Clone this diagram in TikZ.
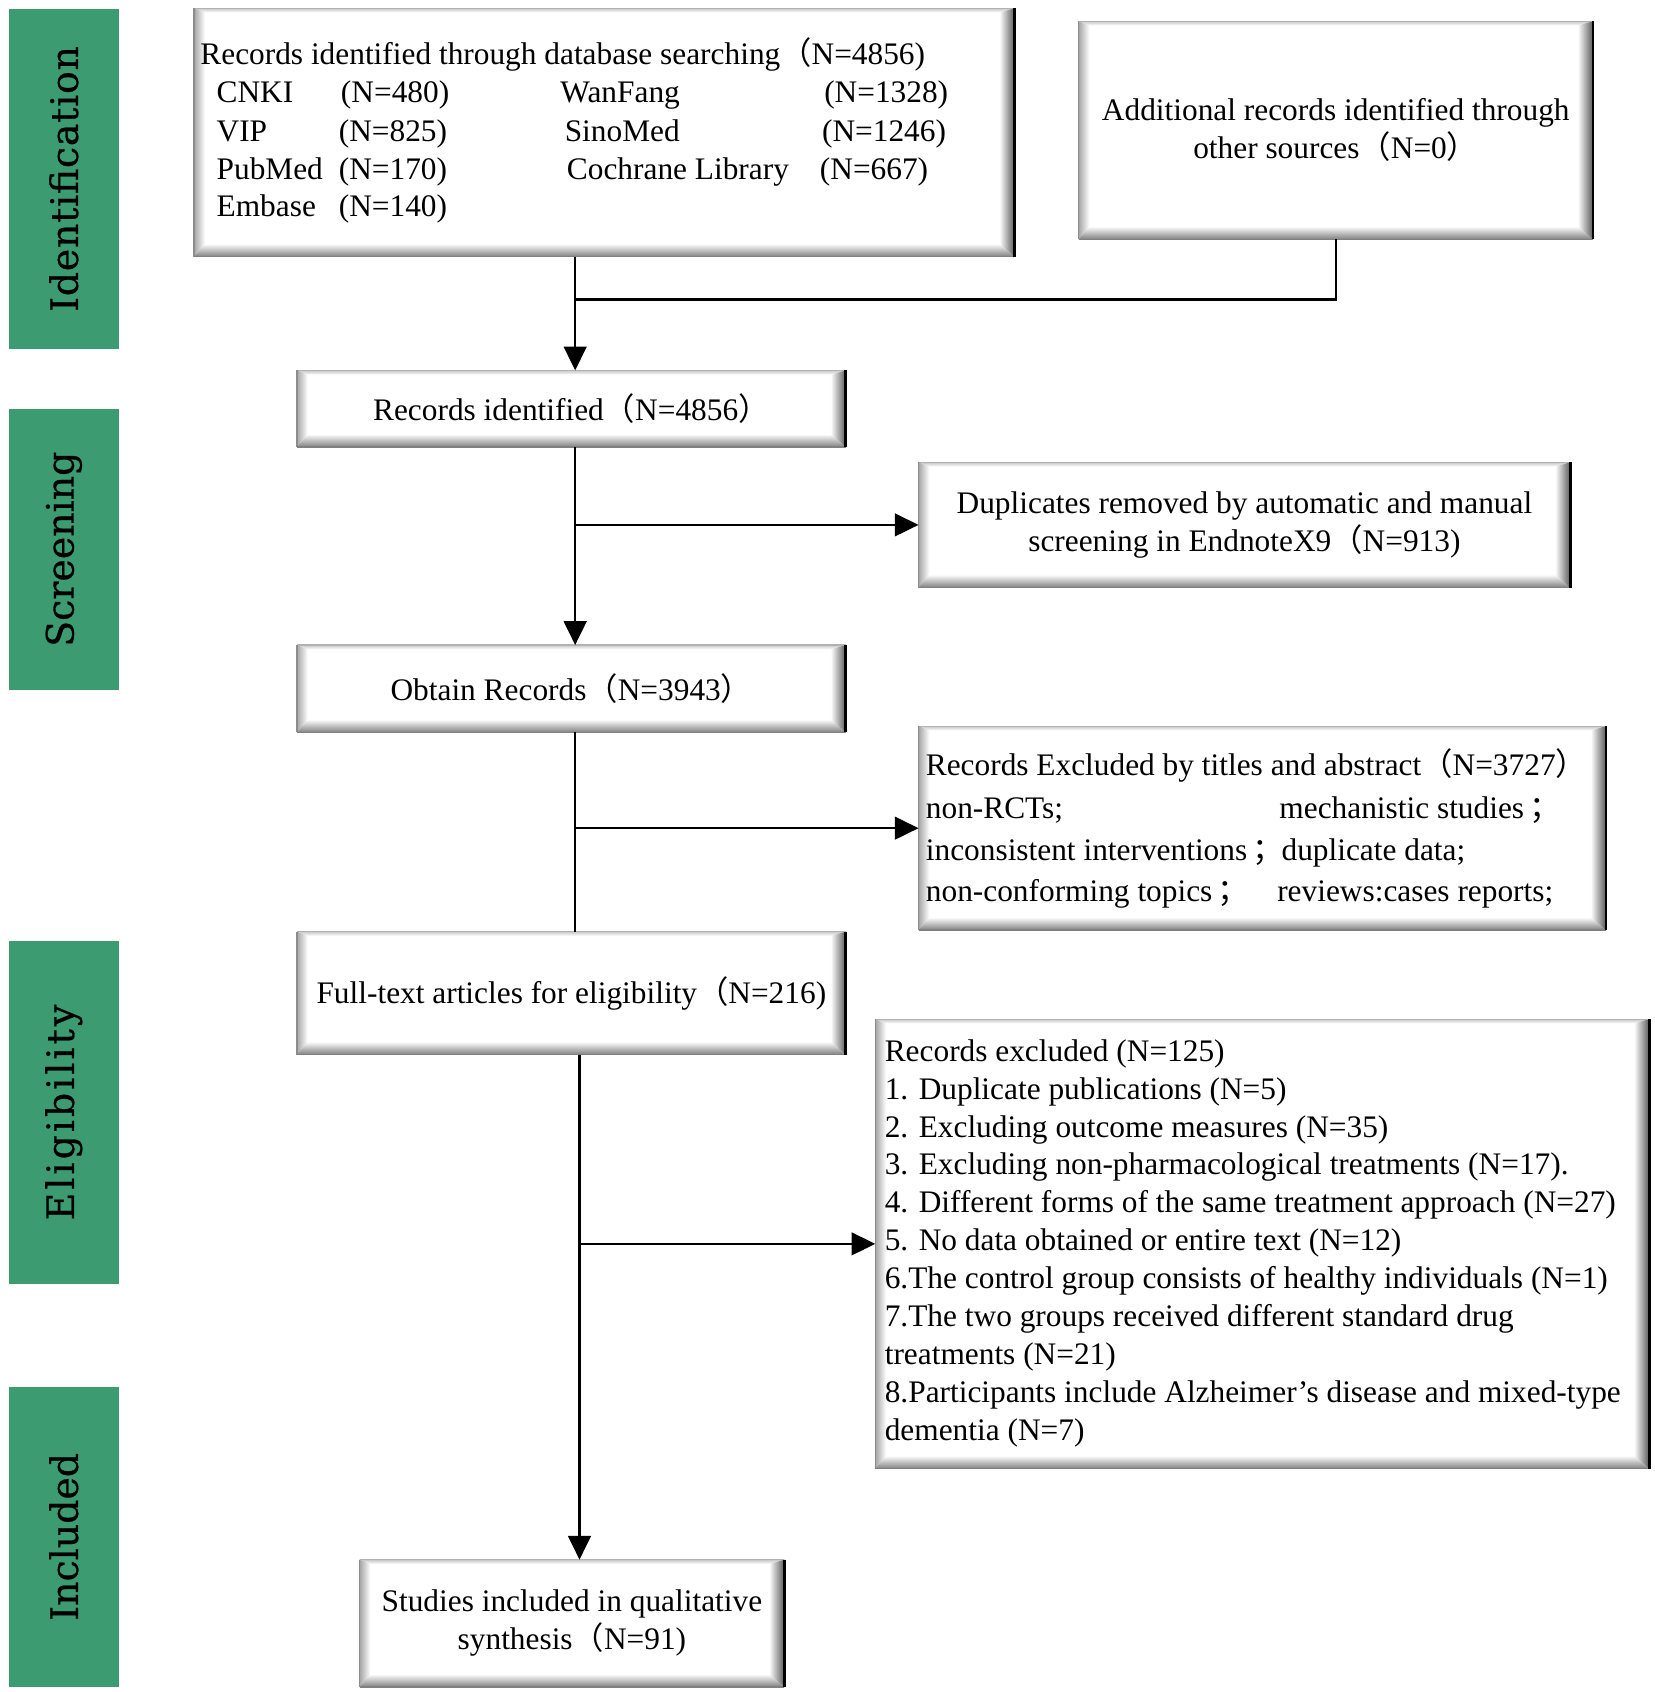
\documentclass[tikz,border=0pt]{standalone}
\usepackage{fontspec}
\setmainfont{Liberation Serif}
\newfontfamily\cjk{Noto Sans CJK SC}
\newfontfamily\phasefont[FakeBold=0.6]{DejaVu Serif}
\usetikzlibrary{arrows.meta,calc}
\newcommand{\lp}{{\cjk （}}
\newcommand{\rp}{{\cjk ）}}
\newcommand{\fsc}{{\cjk ；}}
\newcommand{\bodysize}{\fontsize{14.5pt}{17.5pt}\selectfont}
\definecolor{phasegreen}{RGB}{60,155,112}
\newcommand{\bevel}[1]{%
 \shade[top color=black!22, bottom color=white] (#1.north west) -- (#1.north east) -- ($(#1.north east)+(-14,4)$) -- ($(#1.north west)+(10,4)$) -- cycle;
 \shade[left color=black!35, right color=white] (#1.north west) -- ($(#1.north west)+(10,4)$) -- ($(#1.south west)+(10,-12)$) -- (#1.south west) -- cycle;
 \shade[top color=white, bottom color=black!50] (#1.south west) -- ($(#1.south west)+(10,-12)$) -- ($(#1.south east)+(-14,-12)$) -- (#1.south east) -- cycle;
 \shade[left color=white, right color=black!65] (#1.north east) -- ($(#1.north east)+(-14,4)$) -- ($(#1.south east)+(-14,-12)$) -- (#1.south east) -- cycle;
 \draw[black!30, line width=0.5pt] (#1.north west) -- (#1.north east);
 \draw[black!45, line width=0.7pt] (#1.north west) -- (#1.south west);
 \draw[black!50, line width=0.7pt] (#1.south west) -- (#1.south east);
 \draw[black, line width=1.3pt] (#1.north east) -- (#1.south east);
}
\tikzset{
 box/.style={rectangle, fill=white, inner sep=0pt, align=center, font=\bodysize},
 txt/.style={anchor=base west, inner sep=0pt, font=\bodysize},
 phase/.style={rectangle, fill=phasegreen, inner sep=0pt, rotate=90, text=black, font=\phasefont\fontsize{17.5pt}{20pt}\selectfont},
 conn/.style={line width=1.1pt, black},
 arr/.style={conn, -{Triangle[length=11pt, width=10.5pt]}},
}
\begin{document}
\begin{tikzpicture}[x=0.5pt, y=-0.5pt]
\useasboundingbox (0,0) rectangle (1530,1565);
% phase bars
\node[phase, minimum width=157.5pt, minimum height=51pt] (pIdn) at (59,165.5) {\addfontfeature{LetterSpace=2}Identification};
\node[phase, minimum width=130pt, minimum height=51pt] (pScr) at (59,508) {Screening};
\node[phase, minimum width=159pt, minimum height=51pt] (pEli) at (59,1029) {\addfontfeature{LetterSpace=8}Eligibility};
\node[phase, minimum width=138.5pt, minimum height=51pt] (pInc) at (59,1421.5) {Included};
% boxes
\node[box, minimum width=379pt, minimum height=114.5pt] (db) at (559,122.5) {};
\node[box, minimum width=237.5pt, minimum height=100.5pt] (add) at (1235.5,120.5) {Additional records identified through\\other sources\lp N=0\rp};
\node[box, minimum width=253.5pt, minimum height=35pt] (rid) at (528.5,378) {Records identified\lp N=4856\rp};
\node[box, minimum width=301pt, minimum height=57.5pt] (dup) at (1151,485.5) {Duplicates removed by automatic and manual\\screening in EndnoteX9\lp N=913)};
\node[box, minimum width=253.5pt, minimum height=40pt] (obt) at (528.5,637) {Obtain Records\lp N=3943\rp};
\node[box, minimum width=317.5pt, minimum height=94pt] (exc1) at (1167.5,766) {};
\node[box, minimum width=253.5pt, minimum height=56.5pt] (full) at (528.5,918.5) {Full-text articles for eligibility\lp N=216)};
\node[box, minimum width=357.5pt, minimum height=207.5pt] (exc2) at (1167.5,1150.5) {};
\node[box, minimum width=196pt, minimum height=58.5pt] (inc) at (529,1501.5) {Studies included in qualitative\\synthesis\lp N=91)};
\bevel{db}\bevel{add}\bevel{rid}\bevel{dup}\bevel{obt}\bevel{exc1}\bevel{full}\bevel{exc2}\bevel{inc}
% database box text
\node[txt] (d0) at (185,60) {Records identified through database searching\lp N=4856)};
\node[txt] (d1a) at (200,95) {CNKI};
\node[txt] (d1b) at (315,95) {(N=480)};
\node[txt] (d1c) at (518,95) {WanFang};
\node[txt] (d1d) at (762,95) {(N=1328)};
\node[txt] (d2a) at (200,131) {VIP};
\node[txt] (d2b) at (313,131) {(N=825)};
\node[txt] (d2c) at (522,131) {SinoMed};
\node[txt] (d2d) at (760,131) {(N=1246)};
\node[txt] (d3a) at (200,166) {PubMed};
\node[txt] (d3b) at (313,166) {(N=170)};
\node[txt] (d3c) at (524,166) {Cochrane Library};
\node[txt] (d3d) at (758,166) {(N=667)};
\node[txt] (d4a) at (200,200) {Embase};
\node[txt] (d4b) at (313,200) {(N=140)};
% excluded by titles text
\node[txt] (e0) at (856,717) {Records Excluded by titles and abstract\lp N=3727\rp};
\node[txt] (e1a) at (856,757) {non-RCTs;};
\node[txt] (e1b) at (1183,757) {mechanistic studies\,\fsc};
\node[txt] (e2a) at (856,796) {inconsistent interventions\,\fsc};
\node[txt] (e2b) at (1185,796) {duplicate data;};
\node[txt] (e3a) at (856,834) {non-conforming topics\,\fsc};
\node[txt] (e3b) at (1181,834) {reviews:cases reports;};
% records excluded list
\node[anchor=west, inner sep=0pt, align=left, font=\fontsize{14.5pt}{17.55pt}\selectfont] (elist) at (818,1150) {Records excluded (N=125)\\
1. Duplicate publications (N=5)\\
2. Excluding outcome measures (N=35)\\
3. Excluding non-pharmacological treatments (N=17).\\
4. Different forms of the same treatment approach (N=27)\\
5. No data obtained or entire text (N=12)\\
6.The control group consists of healthy individuals (N=1)\\
7.The two groups received different standard drug\\
treatments (N=21)\\
8.Participants include Alzheimer’s disease and mixed-type\\
dementia (N=7)};
% connectors
\coordinate (m) at (532,0);
\coordinate (m2) at (536,0);
\coordinate (j) at (532,277);
\draw[arr] (db.south -| m) -- (rid.north -| m);
\draw[conn] (add.south) |- (j);
\draw[arr] (rid.south -| m) -- (obt.north -| m);
\draw[arr] (dup.west -| m) -- (dup.west);
\draw[conn] (obt.south -| m) -- (full.north -| m);
\draw[arr] (exc1.west -| m) -- (exc1.west);
\draw[arr] (full.south -| m2) -- (inc.north -| m2);
\draw[arr] (exc2.west -| m2) -- (exc2.west);
\end{tikzpicture}
\end{document}
